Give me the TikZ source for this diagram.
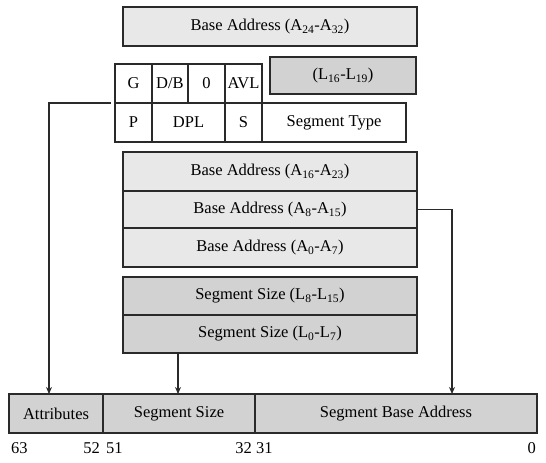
\documentclass[tikz,border=0pt]{standalone}
\usepackage{fontspec}
\setmainfont{Liberation Serif}
\usetikzlibrary{arrows.meta}
\definecolor{lightfill}{HTML}{E8E8E8}
\definecolor{darkfill}{HTML}{D2D2D2}
\definecolor{edge}{HTML}{2A2A2A}
\begin{document}
\begin{tikzpicture}[x=1pt,y=-1pt,
  cell/.style={draw=edge, line width=1.3pt, inner sep=0pt, outer sep=0pt, font=\fontsize{16.5}{19}\selectfont, text=black},
  lcell/.style={cell, fill=lightfill},
  dcell/.style={cell, fill=darkfill},
  wcell/.style={cell, fill=white},
  bitlbl/.style={inner sep=0pt, font=\fontsize{16.5}{19}\selectfont},
  conn/.style={draw=edge, line width=1.2pt, -{Stealth[length=7pt,width=6pt]}},
]
\useasboundingbox (0,0) rectangle (546,463);
% top
\node[lcell, minimum width=294pt, minimum height=39pt] (top) at (270,26.5) {Base Address (A\textsubscript{24}-A\textsubscript{32})};
\node[dcell, minimum width=146pt, minimum height=37pt] (lim) at (343,75.5) {(L\textsubscript{16}-L\textsubscript{19})};
% attribute cells
\node[wcell, minimum width=37pt, minimum height=39pt] (G) at (133.5,83.5) {G};
\node[wcell, minimum width=36pt, minimum height=39pt] (DB) at (170,83.5) {D/B};
\node[wcell, minimum width=37pt, minimum height=39pt] (Z) at (206.5,83.5) {0};
\node[wcell, minimum width=37pt, minimum height=39pt] (AVL) at (243.5,83.5) {AVL};
\node[wcell, minimum width=37pt, minimum height=39pt] (P) at (133.5,122.5) {P};
\node[wcell, minimum width=73pt, minimum height=39pt] (DPL) at (188.5,122.5) {DPL};
\node[wcell, minimum width=37pt, minimum height=39pt] (S) at (243.5,122.5) {S};
\node[wcell, minimum width=144pt, minimum height=39pt] (ST) at (334,122.5) {Segment Type};
% base address
\node[lcell, minimum width=294pt, minimum height=39pt] (BA16) at (270,171.5) {Base Address (A\textsubscript{16}-A\textsubscript{23})};
\node[lcell, minimum width=294pt, minimum height=37pt] (BA8) at (270,209.5) {Base Address (A\textsubscript{8}-A\textsubscript{15})};
\node[lcell, minimum width=294pt, minimum height=39pt] (BA0) at (270,247.5) {Base Address (A\textsubscript{0}-A\textsubscript{7})};
% segment size
\node[dcell, minimum width=294pt, minimum height=38pt] (SS8) at (270,296) {Segment Size (L\textsubscript{8}-L\textsubscript{15})};
\node[dcell, minimum width=294pt, minimum height=38pt] (SS0) at (270,334) {Segment Size (L\textsubscript{0}-L\textsubscript{7})};
% bottom descriptor
\node[dcell, minimum width=94pt, minimum height=39pt] (attr) at (56,413.5) {Attributes};
\node[dcell, minimum width=152pt, minimum height=39pt] (size) at (179,413.5) {Segment Size};
\node[dcell, minimum width=282pt, minimum height=39pt] (base) at (396,413.5) {Segment Base Address};
% bit labels
\node[bitlbl, anchor=west] (b63) at (11,448) {63};
\node[bitlbl, anchor=east] (b52) at (100,448) {52};
\node[bitlbl, anchor=west] (b51) at (106,448) {51};
\node[bitlbl, anchor=east] (b32) at (252,448) {32};
\node[bitlbl, anchor=west] (b31) at (256,448) {31};
\node[bitlbl, anchor=east] (b0) at (536,448) {0};
% connectors
\draw[conn] ([xshift=-4pt]G.south west) -| ([xshift=40pt]attr.north west);
\draw[conn] ([xshift=55pt]SS0.south west) coordinate (ssout) -- (ssout |- size.north);
\draw[conn] (BA8.east) -| ([xshift=197pt]base.north west);
\end{tikzpicture}
\end{document}
